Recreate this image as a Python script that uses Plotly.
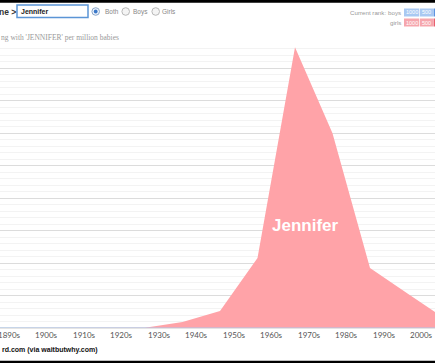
import plotly.graph_objects as go

# ---- data (per million babies) ----
decades = [1880, 1890, 1900, 1910, 1920, 1930, 1940, 1950, 1960, 1970, 1980, 1990, 2000, 2010]
girls = [0, 0, 0, 0, 0, 20, 370, 1050, 4300, 17230, 11950, 3690, 2130, 570]
boys = [0, 0, 0, 0, 0, 0, 0, 0, 10, 40, 30, 5, 0, 0]
tick_decades = [1890, 1900, 1910, 1920, 1930, 1940, 1950, 1960, 1970, 1980, 1990, 2000]
tick_labels = [f"{d}s" for d in tick_decades]
name_label = "Jennifer"

W, H = 435, 363
def py(px):  # pixel y from top -> paper coordinate
    return (H - px) / H
def px_(x):
    return x / W

fig = go.Figure()
fig.add_trace(go.Scatter(x=decades, y=boys, mode="lines", stackgroup="s",
                         line=dict(width=1, color="#a9c6ee"), fillcolor="#a9c6ee",
                         hoverinfo="skip", showlegend=False))
fig.add_trace(go.Scatter(x=decades, y=girls, mode="lines", stackgroup="s",
                         line=dict(width=0, color="#ffa3a8"), fillcolor="#ffa3a8",
                         hoverinfo="skip", showlegend=False))

# x: 1890 at px -5, 3.75 px per year
x0 = 1890 + 5 / 3.75
x1 = x0 + W / 3.75
def xpaper(year):
    return (year - x0) / (x1 - x0)

fig.update_layout(
    width=W, height=H, margin=dict(l=0, r=0, t=0, b=0, autoexpand=False),
    paper_bgcolor="white", plot_bgcolor="white", showlegend=False,
    xaxis=dict(range=[x0, x1], domain=[0, 1], showgrid=False, showticklabels=False,
               zeroline=False, ticks=""),
    yaxis=dict(range=[0, 17600], domain=[py(328), py(42)], showticklabels=False,
               dtick=2000, gridcolor="#dcdcdc", gridwidth=1, zeroline=True,
               zerolinecolor="#e4e4e4", ticks="",
               minor=dict(dtick=400, showgrid=True, gridcolor="#f3f3f3", gridwidth=1)),
)

ann = []
for d, t in zip(tick_decades, tick_labels):
    ann.append(dict(x=xpaper(d), y=py(334.5), xref="paper", yref="paper", text=t, showarrow=False,
                    xanchor="left", yanchor="middle", xshift=0.5,
                    font=dict(family="Lato", size=8, color="#555")))

ann.append(dict(x=1972.7, y=(328 - 226) / 0.01625, xref="x", yref="y",
                text=f"<b>{name_label}</b>", showarrow=False, xanchor="center", yanchor="middle",
                font=dict(family="Liberation Sans", size=17, color="white")))

# bottom source text
ann.append(dict(x=0, y=py(349.5), xref="paper", yref="paper", text="<b>rd.com (via waitbutwhy.com)</b>",
                showarrow=False, xanchor="left", yanchor="middle",
                font=dict(family="Liberation Sans", size=7, color="#111")))

# header
ann.append(dict(x=px_(-3), y=py(12), xref="paper", yref="paper", text="<b>ne ></b>",
                showarrow=False, xanchor="left", yanchor="middle",
                font=dict(family="Liberation Sans", size=8.5, color="#333")))
ann.append(dict(x=px_(19), y=py(11.5), xref="paper", yref="paper", text="<b>Jennifer</b>",
                showarrow=False, xanchor="left", yanchor="middle",
                font=dict(family="Liberation Sans", size=7, color="#222")))
for xx, t in [(102.5, "Both"), (131, "Boys"), (160, "Girls")]:
    ann.append(dict(x=px_(xx), y=py(11.5), xref="paper", yref="paper", text=t,
                    showarrow=False, xanchor="left", yanchor="middle",
                    font=dict(family="Liberation Sans", size=6.5, color="#888")))
ann.append(dict(x=px_(-1), y=py(37.5), xref="paper", yref="paper",
                text="ng with 'JENNIFER' per million babies",
                showarrow=False, xanchor="left", yanchor="middle",
                font=dict(family="Liberation Serif", size=7.5, color="#999")))
ann.append(dict(x=px_(388), y=py(12.3), xref="paper", yref="paper", text="Current rank:",
                showarrow=False, xanchor="right", yanchor="middle",
                font=dict(family="Liberation Sans", size=6.2, color="#999")))
ann.append(dict(x=px_(403), y=py(12.3), xref="paper", yref="paper", text="boys",
                showarrow=False, xanchor="right", yanchor="middle",
                font=dict(family="Liberation Sans", size=6.2, color="#999")))
ann.append(dict(x=px_(403), y=py(22.3), xref="paper", yref="paper", text="girls",
                showarrow=False, xanchor="right", yanchor="middle",
                font=dict(family="Liberation Sans", size=6.2, color="#999")))
for yy in [12.5, 22.5]:
    for xx, t in [(411.5, "1000"), (426.3, "500")]:
        ann.append(dict(x=px_(xx), y=py(yy), xref="paper", yref="paper", text=t,
                        showarrow=False, xanchor="center", yanchor="middle",
                        font=dict(family="Liberation Sans", size=5.5, color="white")))

shapes = []
def rect(x0_, y0, x1_, y1, fill, line=None, lw=0):
    shapes.append(dict(type="rect", xref="paper", yref="paper", x0=px_(x0_), x1=px_(x1_),
                       y0=py(y1), y1=py(y0), fillcolor=fill,
                       line=dict(color=line or fill, width=lw), layer="above"))
def circ(cx, cy, r, fill, line, lw=1):
    shapes.append(dict(type="circle", xref="paper", yref="paper", x0=px_(cx - r), x1=px_(cx + r),
                       y0=py(cy + r), y1=py(cy - r), fillcolor=fill,
                       line=dict(color=line, width=lw), layer="above"))

# black edges
shapes.append(dict(type="line", xref="paper", yref="paper", x0=0, x1=1, y0=py(1.4), y1=py(1.4),
                   line=dict(color="black", width=2.8), layer="above"))
rect(0, 360.8, 435, 363, "black")
# input box
rect(17, 5, 88, 17.5, "white", "#5b95d6", 1.5)
# radios
circ(95.7, 11.5, 3.8, "#eef3fb", "#8aa6c9", 1)
circ(95.7, 11.5, 1.9, "#3a78c8", "#3a78c8", 0)
circ(125.7, 11.5, 3.8, "#f4f4f4", "#b8b8b8", 1)
circ(155.7, 11.5, 3.8, "#f4f4f4", "#b8b8b8", 1)
# rank boxes
rect(404, 8.5, 419, 16.5, "#a9c9f2")
rect(419.7, 8.5, 433, 16.5, "#a9c9f2")
rect(433.5, 8.5, 435, 16.5, "#5d93e0")
rect(404, 18.5, 419, 26.5, "#f6a6ad")
rect(419.7, 18.5, 433, 26.5, "#f6a6ad")
rect(433.5, 18.5, 435, 26.5, "#e8606e")

fig.update_layout(annotations=ann, shapes=shapes)
fig.write_html("out.html", config={"displayModeBar": False},
               post_script="document.body.style.margin='0';document.body.style.overflow='hidden';")
